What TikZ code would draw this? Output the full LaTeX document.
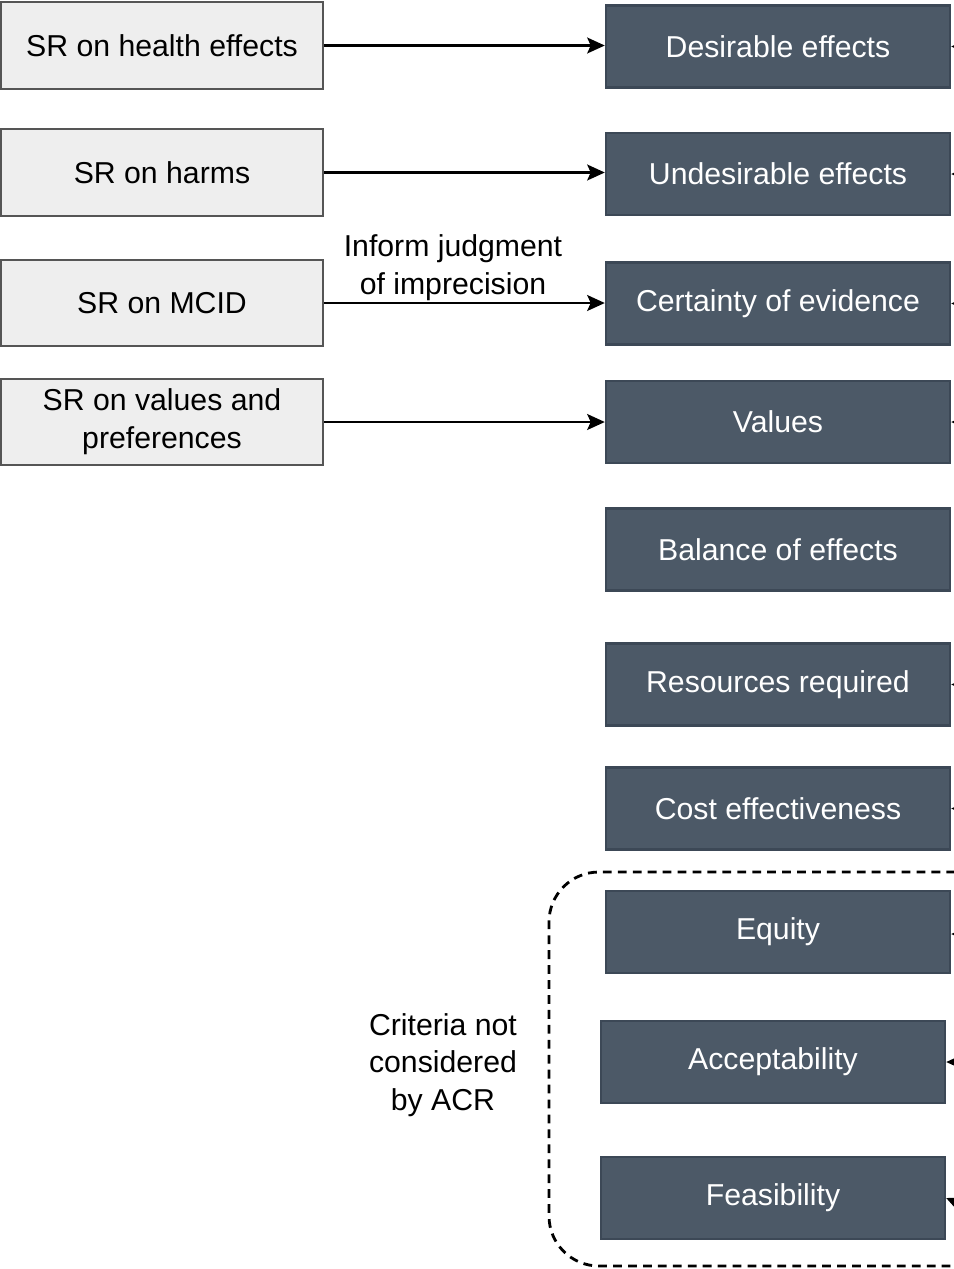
\documentclass[tikz,border=0pt]{standalone}
\usepackage{fontspec}
\setmainfont{Liberation Sans}
\usetikzlibrary{arrows.meta,calc}
\definecolor{srfill}{HTML}{EEEEEE}
\definecolor{srdraw}{HTML}{555555}
\definecolor{dkfill}{HTML}{4C5967}
\definecolor{dkdraw}{HTML}{3C4856}
\tikzset{
  srbox/.style={draw=srdraw, fill=srfill, line width=1.4pt, minimum width=6.44cm, minimum height=1.73cm, inner sep=0pt, align=center, font=\fontsize{17.2}{21.5}\selectfont, text=black},
  dkbox/.style={draw=dkdraw, fill=dkfill, line width=1.4pt, minimum width=6.88cm, minimum height=1.64cm, inner sep=0pt, align=center, font=\fontsize{17.2}{21.5}\selectfont, text=white},
  arr/.style={line width=1.5pt, -{Stealth[length=10pt,width=9pt,inset=2pt]}},
  lbl/.style={align=center, font=\fontsize{17.2}{21.5}\selectfont, inner sep=0pt}
}
\begin{document}
\begin{tikzpicture}[x=0.02cm,y=-0.02cm]
\useasboundingbox (0,0) rectangle (954,1269);
\clip (0,0) rectangle (954,1269);
\fill[white] (0,0) rectangle (954,1269);
% left boxes
\node[srbox] (s1) at (162,45.5) {SR on health effects};
\node[srbox] (s2) at (162,172.5) {SR on harms};
\node[srbox] (s3) at (162,303) {SR on MCID};
\node[srbox] (s4) at (162,422) {SR on values and\\preferences};
% right boxes
\node[dkbox] (d1) at (778,46.5) {Desirable effects};
\node[dkbox] (d2) at (778,174) {Undesirable effects};
\node[dkbox] (d3) at (778,303.5) {Certainty of evidence};
\node[dkbox] (d4) at (778,422) {Values};
\node[dkbox] (d5) at (778,549.5) {Balance of effects};
\node[dkbox] (d6) at (778,684.5) {Resources required};
\node[dkbox] (d7) at (778,808.5) {Cost effectiveness};
\node[dkbox] (d8) at (778,932) {Equity};
\node[dkbox] (d9) at (773,1062) {Acceptability};
\node[dkbox] (d10) at (773,1198) {Feasibility};
% left-to-right arrows
\draw[arr] (s1.east) -- (s1.east -| d1.west);
\draw[arr] (s2.east) -- (s2.east -| d2.west);
\draw[arr] (s3.east) -- (s3.east -| d3.west);
\draw[arr] (s4.east) -- (s4.east -| d4.west);
\node[lbl] (inf) at (453,268) {Inform judgment\\of imprecision};
% incoming arrows from the right (cut off)
\coordinate (r1) at (990,46.5);
\coordinate (r2) at (990,174);
\coordinate (r3) at (990,303.5);
\coordinate (r4) at (990,422);
\coordinate (r6) at (990,684.5);
\coordinate (r7) at (990,808.5);
\coordinate (r8) at (990,934);
\coordinate (r9) at (990,1062);
\coordinate (r10) at (985,1215);
\draw[arr] (r1) -- (d1.east);
\draw[arr] (r2) -- (d2.east);
\draw[arr] (r3) -- (d3.east);
\draw[arr] (r4) -- (d4.east);
\draw[arr] (r6) -- (d6.east);
\draw[arr] (r7) -- (d7.east);
\draw[arr] (r8) -- (d8.east |- r8);
\draw[arr] (r9) -- (d9.east);
\draw[arr] (r10) -- (d10.east);
% dashed group
\draw[line width=1.6pt, dash pattern=on 5pt off 3.5pt, rounded corners=1cm] (1000,872) -- (549,872) -- (549,1266) -- (1000,1266);
\node[lbl] (crit) at (443,1065) {Criteria not\\considered\\by ACR};
\end{tikzpicture}
\end{document}
